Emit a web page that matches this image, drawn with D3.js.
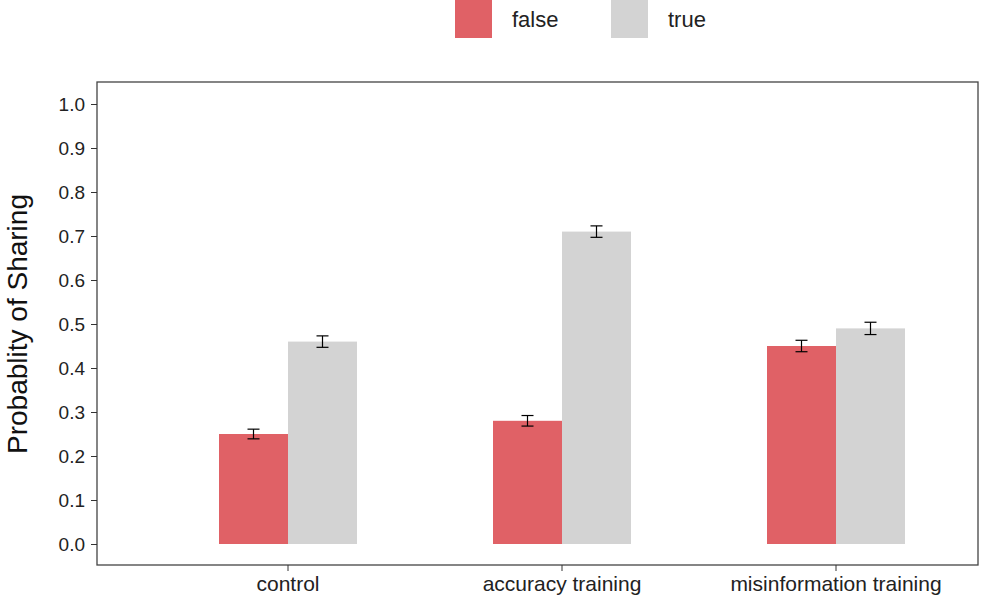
<!DOCTYPE html>
<html><head><meta charset="utf-8">
<script src="https://cdn.jsdelivr.net/npm/d3@7"></script>
<style>body{margin:0;background:#fff;font-family:"Liberation Sans",Arial,sans-serif}</style>
</head><body><div class="chart"></div>
<script>
var conditions = ["control", "accuracy training", "misinformation training"];
var veracity = ["false", "true"];
var falseMean = [0.25, 0.28, 0.45];
var trueMean = [0.46, 0.71, 0.49];
var falseErr = [0.011, 0.012, 0.013];
var trueErr = [0.013, 0.013, 0.014];
var yTicks = [0, 0.1, 0.2, 0.3, 0.4, 0.5, 0.6, 0.7, 0.8, 0.9, 1.0];

var w = 1000, h = 604;
var colors = {"false": "#E06166", "true": "#D3D3D3"};

var rows = [];
conditions.forEach(function (c, i) {
    rows.push({cond: c, key: "false", v: falseMean[i], e: falseErr[i]});
    rows.push({cond: c, key: "true", v: trueMean[i], e: trueErr[i]});
});

var svg = d3.select(".chart").append("svg").attr("width", w).attr("height", h);

var xScale = d3.scaleBand().domain(conditions).range([151, 973]);
var inner = d3.scaleBand().domain(veracity).range([-69, 69]);
var yScale = d3.scaleLinear().domain([0, 1]).range([544, 104]);

svg.selectAll("rect.bar").data(rows).enter().append("rect")
    .attr("class", "bar")
    .attr("x", function (d) { return xScale(d.cond) + xScale.bandwidth() / 2 + inner(d.key); })
    .attr("width", inner.bandwidth())
    .attr("y", function (d) { return yScale(d.v); })
    .attr("height", function (d) { return yScale(0) - yScale(d.v); })
    .style("fill", function (d) { return colors[d.key]; });

// error bars
var eb = svg.selectAll("g.err").data(rows).enter().append("g")
    .attr("transform", function (d) {
        return "translate(" + (xScale(d.cond) + xScale.bandwidth() / 2 + inner(d.key) + inner.bandwidth() / 2) + ",0)";
    })
    .style("stroke", "#000").style("stroke-width", 1.2);
eb.append("line").attr("y1", function (d) { return yScale(d.v - d.e); }).attr("y2", function (d) { return yScale(d.v + d.e); });
eb.append("line").attr("x1", -6).attr("x2", 6).attr("y1", function (d) { return yScale(d.v - d.e); }).attr("y2", function (d) { return yScale(d.v - d.e); });
eb.append("line").attr("x1", -6).attr("x2", 6).attr("y1", function (d) { return yScale(d.v + d.e); }).attr("y2", function (d) { return yScale(d.v + d.e); });

// panel border
svg.append("rect").attr("x", 97).attr("y", 82).attr("width", 881).attr("height", 483)
    .style("fill", "none").style("stroke", "#444").style("stroke-width", 1.3);

var yAxis = d3.axisLeft(yScale).tickValues(yTicks).tickFormat(d3.format(".1f")).tickSize(6).tickPadding(6);
var gy = svg.append("g").attr("transform", "translate(97,0)").call(yAxis);
gy.select(".domain").remove();
gy.selectAll("line").style("stroke", "#333");
gy.selectAll("text").style("font-size", "19px").style("fill", "#222").style("font-family", "Liberation Sans, Arial");

var xAxis = d3.axisBottom(xScale).tickSize(6).tickPadding(5);
var gx = svg.append("g").attr("transform", "translate(0,565)").call(xAxis);
gx.select(".domain").remove();
gx.selectAll("line").style("stroke", "#333");
gx.selectAll("text").style("font-size", "21px").style("fill", "#222").style("font-family", "Liberation Sans, Arial");

svg.append("text").attr("transform", "translate(27,324) rotate(-90)")
    .attr("text-anchor", "middle").style("font-size", "28px").style("fill", "#111")
    .text("Probablity of Sharing");

// legend
var lx = [455, 611];
var lg = svg.selectAll("g.leg").data(veracity).enter().append("g")
    .attr("transform", function (d, i) { return "translate(" + lx[i] + ",0)"; });
lg.append("rect").attr("width", 37).attr("height", 38).style("fill", function (d) { return colors[d]; });
lg.append("text").attr("x", 57).attr("y", 27).style("font-size", "22px").style("fill", "#222").text(function (d) { return d; });
</script>
</body></html>
